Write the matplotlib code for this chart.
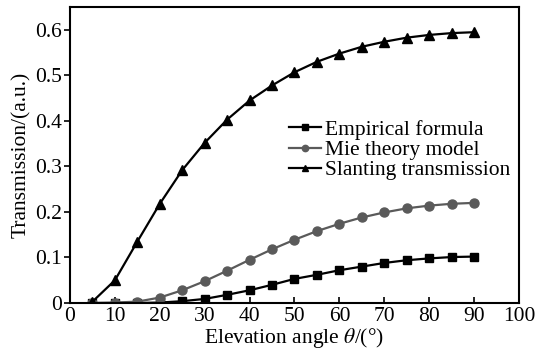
import numpy as np
import matplotlib
matplotlib.use("Agg")
import matplotlib.pyplot as plt

# elevation angles (deg)
angle = [5, 10, 15, 20, 25, 30, 35, 40, 45, 50, 55, 60, 65, 70, 75, 80, 85, 90]

empirical = [0.0, 0.0, 0.0, 0.001, 0.004, 0.009, 0.018, 0.028, 0.040, 0.053,
             0.062, 0.072, 0.080, 0.088, 0.094, 0.098, 0.101, 0.102]
mie = [0.0, 0.001, 0.003, 0.012, 0.028, 0.048, 0.071, 0.095, 0.118, 0.139,
       0.158, 0.174, 0.188, 0.199, 0.208, 0.214, 0.218, 0.220]
slanting = [0.003, 0.050, 0.135, 0.218, 0.292, 0.352, 0.403, 0.445, 0.478, 0.507,
            0.530, 0.548, 0.563, 0.574, 0.583, 0.589, 0.593, 0.595]

labels = ["Empirical formula", "Mie theory model", "Slanting transmission"]

plt.rcParams["font.family"] = ["Liberation Serif", "DejaVu Serif"]
plt.rcParams["mathtext.fontset"] = "stix"
FS = 15.5

fig = plt.figure(figsize=(5.44, 3.58), dpi=100)
ax = fig.add_axes([0.1287, 0.1536, 0.954 - 0.1287, 0.98 - 0.1536])

ax.plot(angle, empirical, color="black", lw=1.6, marker="s", ms=6, label=labels[0])
ax.plot(angle, mie, color="#5a5a5a", lw=1.6, marker="o", ms=6.5, label=labels[1])
ax.plot(angle, slanting, color="black", lw=1.6, marker="^", ms=7, label=labels[2])

ax.set_xlim(0, 100)
ax.set_ylim(0, 0.65)
ax.set_xticks(np.arange(0, 101, 10))
ax.set_yticks([0, 0.1, 0.2, 0.3, 0.4, 0.5, 0.6])
ax.set_yticklabels(["0", "0.1", "0.2", "0.3", "0.4", "0.5", "0.6"])
ax.tick_params(axis="x", direction="in", length=4, width=1.2, labelsize=FS, pad=3)
ax.tick_params(axis="y", direction="out", length=4, width=1.2, labelsize=FS, pad=2)
for s in ax.spines.values():
    s.set_linewidth(1.5)

ax.set_xlabel(r"Elevation angle $\theta$/(°)", fontsize=FS, labelpad=0)
ax.set_ylabel("Transmission/(a.u.)", fontsize=FS, labelpad=3)

ax.legend(loc="upper left", bbox_to_anchor=(0.468, 0.648), frameon=False, fontsize=FS,
          handlelength=1.5, handletextpad=0.2, labelspacing=0.0, borderaxespad=0,
          markerscale=0.7)

fig.savefig("out.png", dpi=100)
